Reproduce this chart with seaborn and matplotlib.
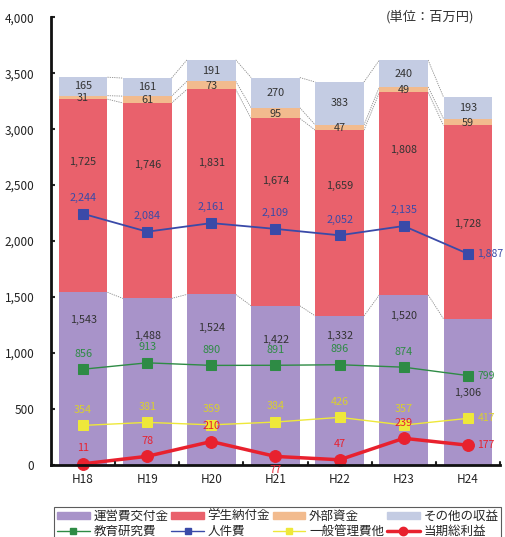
import numpy as np
import pandas as pd
import matplotlib
matplotlib.use("Agg")
import matplotlib.pyplot as plt
import seaborn as sns
from matplotlib.lines import Line2D
from matplotlib.patches import Patch

years = ["H18", "H19", "H20", "H21", "H22", "H23", "H24"]
unei = [1543, 1488, 1524, 1422, 1332, 1520, 1306]
gakusei = [1725, 1746, 1831, 1674, 1659, 1808, 1728]
gaibu = [31, 61, 73, 95, 47, 49, 59]
sonota = [165, 161, 191, 270, 383, 240, 193]
kyoiku = [856, 913, 890, 891, 896, 874, 799]
jinken = [2244, 2084, 2161, 2109, 2052, 2135, 1887]
ippan = [354, 381, 359, 384, 426, 357, 417]
rieki = [11, 78, 210, 77, 47, 239, 177]
yticks = [0, 500, 1000, 1500, 2000, 2500, 3000, 3500, 4000]

sns.set_theme(style="white")
plt.rcParams['font.family'] = ['Noto Sans CJK JP', 'DejaVu Sans']

C_UNEI = "#a893c9"
C_GAKU = "#e9616c"
C_GAIBU = "#f2bb8e"
C_SONO = "#c4cce3"
C_KYO = "#2e8b45"
C_JIN = "#3a4aa8"
C_IPP = "#eee83a"
C_RIE = "#e8212e"

fig = plt.figure(figsize=(5.05, 5.37), dpi=100)
ax = fig.add_axes([0.101, 0.134, 0.889, 0.834])

x = np.arange(len(years))
w = 0.76
series = [(unei, C_UNEI), (gakusei, C_GAKU), (gaibu, C_GAIBU), (sonota, C_SONO)]
bottom = np.zeros(len(years))
levels = []
for vals, col in series:
    v = np.array(vals, dtype=float)
    ax.bar(x, v, width=w, bottom=bottom, color=col, edgecolor="none", zorder=1)
    bottom = bottom + v
    levels.append(bottom.copy())

# connector lines between bar tops
for lv in levels:
    for i in range(len(years) - 1):
        ax.plot([x[i] + w / 2, x[i + 1] - w / 2], [lv[i], lv[i + 1]],
                color="#8a8a8a", lw=0.6, ls=(0, (1.5, 1.2)), zorder=0.5)

# segment labels
unei_lab_y = [1295, 1152, 1223, 1116, 1152, 1330, 643]
gaku_lab_y = [2705, 2679, 2696, 2536, 2491, 2812, 2152]
FS = 7.8
for i in range(len(years)):
    ax.text(x[i], unei_lab_y[i], f"{unei[i]:,}", ha="center", va="center",
            fontsize=FS, color="#333333", zorder=5)
    ax.text(x[i], gaku_lab_y[i], f"{gakusei[i]:,}", ha="center", va="center",
            fontsize=FS, color="#333333", zorder=5)
    ax.text(x[i], levels[1][i] + gaibu[i] / 2 - 5, f"{gaibu[i]:,}", ha="center",
            va="center", fontsize=FS, color="#333333", zorder=5)
    ax.text(x[i], levels[2][i] + sonota[i] / 2, f"{sonota[i]:,}", ha="center",
            va="center", fontsize=FS, color="#333333", zorder=5)

df = pd.DataFrame({"x": x, "kyoiku": kyoiku, "jinken": jinken,
                   "ippan": ippan, "rieki": rieki})
sns.lineplot(data=df, x="x", y="ippan", ax=ax, color=C_IPP, lw=1.0, marker="s",
             markersize=7, markeredgecolor=C_IPP, zorder=6)
sns.lineplot(data=df, x="x", y="kyoiku", ax=ax, color=C_KYO, lw=1.0, marker="s",
             markersize=7, markeredgecolor=C_KYO, zorder=6)
sns.lineplot(data=df, x="x", y="jinken", ax=ax, color=C_JIN, lw=1.3, marker="s",
             markersize=7, markeredgecolor=C_JIN, zorder=6)
sns.lineplot(data=df, x="x", y="rieki", ax=ax, color=C_RIE, lw=2.5, marker="o",
             markersize=8.5, markeredgecolor=C_RIE, zorder=7, clip_on=False)

def line_labels(vals, col, below=()):
    n = len(vals)
    for i, v in enumerate(vals):
        if i == n - 1:
            ax.text(x[i] + 0.15, v, f"{v:,}", ha="left", va="center",
                    fontsize=7.5, color=col, zorder=8, clip_on=False)
        elif i in below:
            ax.text(x[i], v - 120, f"{v:,}", ha="center", va="center",
                    fontsize=FS, color=col, zorder=12, clip_on=False)
        else:
            ax.text(x[i], v + 140, f"{v:,}", ha="center", va="center",
                    fontsize=FS, color=col, zorder=8)

line_labels(kyoiku, C_KYO)
line_labels(jinken, C_JIN)
line_labels(ippan, "#d9cf30")
line_labels(rieki, C_RIE, below=(3,))

ax.set_xlim(-0.5, 6.5)
ax.set_ylim(0, 4000)
ax.set_yticks(yticks)
ax.set_yticklabels([f"{t:,}" for t in yticks], fontsize=8.5, color="#222222")
ax.set_xticks(x)
ax.set_xticklabels(years, fontsize=8.5, color="#222222")
ax.set_xlabel("")
ax.set_ylabel("")
ax.tick_params(axis="x", length=0, pad=6)
ax.tick_params(axis="y", direction="in", length=3, width=1.5, left=True, pad=12)
for t in np.arange(0.5, 6.6, 1.0):
    ax.plot([t, t], [0, 25], color="#222222", lw=1.5, zorder=9, clip_on=False)
for s in ["top", "right"]:
    ax.spines[s].set_visible(False)
ax.spines["left"].set_color("#111111")
ax.spines["left"].set_linewidth(2)
ax.spines["bottom"].set_color("#111111")
ax.spines["bottom"].set_linewidth(2)
ax.spines["bottom"].set_zorder(10)

fig.text(0.94, 0.968, "(単位：百万円)", ha="right", va="center", fontsize=9.5,
         color="#333333")

handles = [
    Patch(color=C_UNEI, label="運営費交付金"),
    Line2D([], [], color=C_KYO, lw=1, marker="s", ms=5, label="教育研究費"),
    Patch(color=C_GAKU, label="学生納付金"),
    Line2D([], [], color=C_JIN, lw=1, marker="s", ms=5, label="人件費"),
    Patch(color=C_GAIBU, label="外部資金"),
    Line2D([], [], color=C_IPP, lw=1, marker="s", ms=5, label="一般管理費他"),
    Patch(color=C_SONO, label="その他の収益"),
    Line2D([], [], color=C_RIE, lw=2.5, marker="o", ms=6, label="当期総利益"),
]
leg = fig.legend(handles=handles, ncol=4, loc="lower left",
                 bbox_to_anchor=(0.107, -0.008, 0.886, 0.075), mode="expand",
                 fontsize=9, frameon=True, fancybox=False, edgecolor="#333333",
                 handlelength=2.6, handleheight=0.45, handletextpad=0.3,
                 columnspacing=0.3, labelspacing=0.2, borderpad=0.25,
                 borderaxespad=0)
leg.get_frame().set_linewidth(0.8)

fig.savefig("out.png", dpi=100)
